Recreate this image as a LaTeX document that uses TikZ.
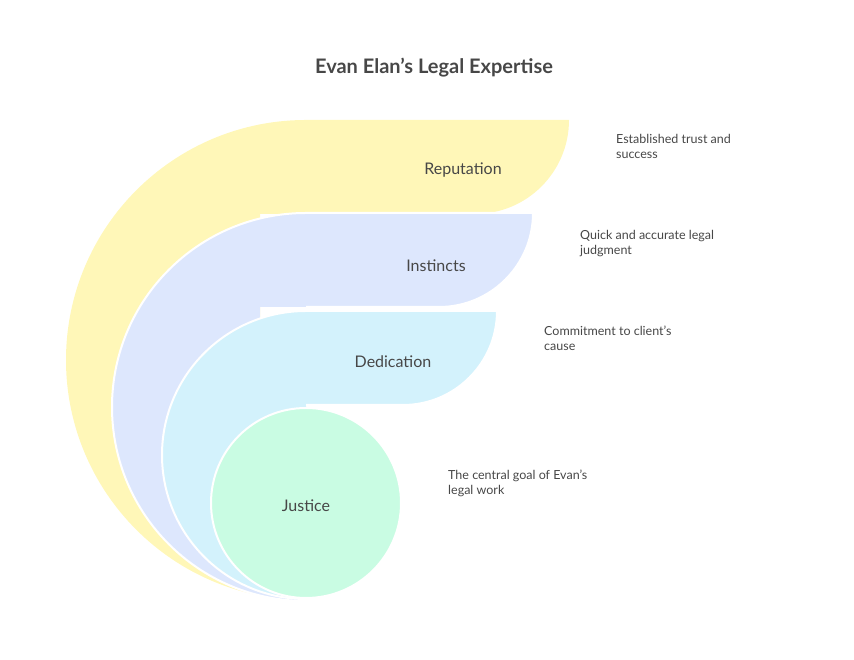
\documentclass[tikz,border=0pt]{standalone}
\usepackage{fontspec}
\setmainfont{Lato}
\begin{document}
\begin{tikzpicture}[x=1pt,y=1pt,
  edge/.style={draw=white,line width=2pt},
  lab/.style={text=black!72,font=\fontsize{16}{19}\selectfont},
  desc/.style={text=black!72,font=\fontsize{12.5}{15}\selectfont,anchor=north west,align=left,inner sep=0pt}]
\useasboundingbox (0,0) rectangle (854,660);
\definecolor{cy}{HTML}{FFF7B8}
\definecolor{cb}{HTML}{DDE7FD}
\definecolor{cc}{HTML}{D3F2FC}
\definecolor{cg}{HTML}{C9FCE3}
\node[font=\bfseries\fontsize{20}{24}\selectfont,text=black!72] (title) at (434,592) {Evan Elan's Legal Expertise};
% Reputation
\fill[cy] (306,60) arc[start angle=270,end angle=90,radius=240] -- (569,540)
  arc[start angle=0,end angle=-90,radius=94] -- (260,446) -- (260,200) -- cycle;
% Instincts
\fill[cb] (306,59) arc[start angle=270,end angle=90,radius=194] -- (533,447)
  arc[start angle=0,end angle=-90,radius=94] -- (260,353) -- (260,150) -- cycle;
\draw[edge] (306,59) arc[start angle=270,end angle=90,radius=194] -- (533,447)
  arc[start angle=0,end angle=-90,radius=94] -- (306,353);
% Dedication
\fill[cc] (306,61) arc[start angle=270,end angle=90,radius=144] -- (497,349)
  arc[start angle=0,end angle=-90,radius=94] -- (306,255) -- cycle;
\draw[edge] (306,61) arc[start angle=270,end angle=90,radius=144] -- (497,349)
  arc[start angle=0,end angle=-90,radius=94] -- (306,255);
% Justice
\filldraw[edge,fill=cg] (306,157) circle[radius=95];
\node[lab] (rep) at (463,490) {Reputation};
\node[lab] (ins) at (436,394) {Instincts};
\node[lab] (ded) at (393,298) {Dedication};
\node[lab] (jus) at (306,154) {Justice};
\node[desc] (d1) at (616,526) {Established trust and\\success};
\node[desc] (d2) at (580,430) {Quick and accurate legal\\judgment};
\node[desc] (d3) at (544,334) {Commitment to client's\\cause};
\node[desc] (d4) at (448,190) {The central goal of Evan's\\legal work};
\end{tikzpicture}
\end{document}
